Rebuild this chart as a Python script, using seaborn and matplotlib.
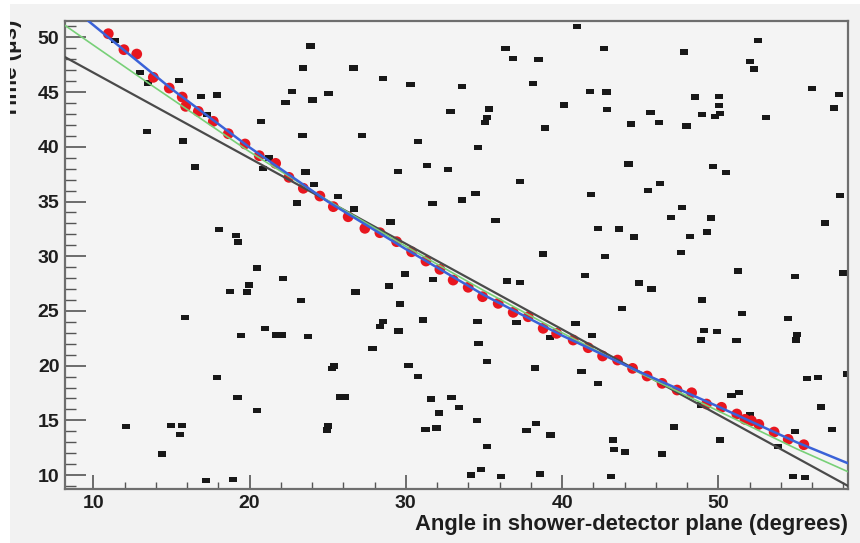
import matplotlib
matplotlib.use("Agg")
import matplotlib.pyplot as plt
from matplotlib.patches import Rectangle
from matplotlib.path import Path
from matplotlib.ticker import MultipleLocator
import seaborn as sns

# background hits (black markers)
noise_x = [11.39, 23.90, 23.41, 26.65, 28.55, 30.30, 12.99, 15.50, 13.52, 16.87,
           17.93, 22.71, 25.05, 22.30, 24.03, 32.86, 20.71, 17.25, 13.46, 15.72,
           23.39, 27.19, 30.79, 16.53, 21.24, 20.88, 23.58, 29.51, 31.37, 32.71,
           24.12, 23.05, 25.67, 31.71, 26.70, 29.02, 18.06, 19.11, 19.28,
           40.94, 36.38, 42.67, 47.79, 52.54, 36.85, 38.49, 52.01, 52.29, 33.57,
           38.11, 41.80, 42.84, 56.02, 57.72, 48.51, 50.05, 40.13, 42.88, 50.05,
           35.31, 35.19, 35.06, 45.66, 48.96, 49.77, 50.13, 57.38, 53.03, 38.92,
           44.40, 46.19, 47.96, 34.63, 44.25, 49.66, 50.47, 37.30, 46.27, 45.51,
           34.46, 33.61, 41.86, 57.81, 47.70, 35.74, 46.98, 49.52, 56.83, 42.31,
           43.65, 44.61, 48.21, 49.28,
           20.47, 22.13, 19.98, 18.74, 19.81, 23.28, 26.78, 28.91, 29.92, 31.75,
           29.64, 15.84, 21.00, 19.47, 21.69, 22.05, 23.73, 28.55, 28.34, 29.53,
           31.09, 27.87, 30.17, 30.77, 25.25, 25.42, 17.89, 19.23, 25.78, 26.10,
           20.47, 31.62, 32.92, 32.11, 12.11, 14.99, 15.65, 15.55, 24.93, 25.03,
           31.26, 31.96, 14.42, 17.21, 18.96,
           38.75, 42.73, 47.62, 51.26, 54.89, 57.98, 41.45, 36.49, 37.28, 44.93,
           45.72, 48.96, 43.84, 51.50, 54.46, 34.59, 37.08, 40.86, 49.11, 49.94,
           55.01, 54.99, 48.90, 51.16, 39.24, 41.90, 34.65, 35.21, 38.24, 41.24,
           42.31, 58.25, 55.65, 56.36, 50.84, 51.30, 33.40, 56.59, 34.55, 38.32,
           37.72, 39.26, 47.17, 54.93, 57.27, 35.21, 43.27, 43.31, 44.03, 46.40,
           50.11, 53.84, 34.80, 34.16, 36.10, 38.60, 43.14, 54.78, 55.57, 48.92,
           52.01]
noise_y = [49.70, 49.21, 47.20, 47.20, 46.25, 45.71, 46.80, 46.07, 45.83, 44.61,
           44.73, 45.04, 44.85, 44.03, 44.27, 43.24, 42.29, 42.93, 41.38, 40.53,
           41.01, 41.01, 40.47, 38.15, 38.97, 38.03, 37.69, 37.75, 38.27, 37.94,
           36.57, 34.86, 35.47, 34.83, 34.31, 33.12, 32.45, 31.90, 31.29,
           50.98, 49.00, 48.97, 48.66, 49.70, 48.05, 47.99, 47.78, 47.11, 45.49,
           45.77, 45.07, 45.01, 45.31, 44.79, 44.55, 44.61, 43.82, 43.39, 43.79,
           43.45, 42.69, 42.23, 43.15, 42.93, 42.78, 43.06, 43.54, 42.69, 41.71,
           42.08, 42.20, 41.90, 39.92, 38.42, 38.18, 37.66, 36.81, 36.66, 35.99,
           35.71, 35.13, 35.62, 35.53, 34.43, 33.24, 33.55, 33.49, 33.03, 32.54,
           32.48, 31.75, 31.81, 32.21,
           28.92, 27.98, 27.37, 26.76, 26.73, 25.97, 26.73, 27.28, 28.38, 27.86,
           25.63, 24.42, 23.41, 22.77, 22.80, 22.80, 22.65, 24.05, 23.56, 23.17,
           24.17, 21.55, 20.03, 19.02, 19.75, 19.97, 18.90, 17.10, 17.13, 17.13,
           15.91, 16.95, 17.07, 15.67, 14.45, 14.51, 14.51, 13.72, 14.12, 14.48,
           14.18, 14.30, 11.92, 9.48, 9.61,
           30.20, 29.96, 30.33, 28.65, 28.13, 28.47, 28.22, 27.74, 27.58, 27.55,
           27.01, 26.00, 25.24, 24.75, 24.29, 24.02, 23.96, 23.84, 23.20, 23.10,
           22.83, 22.34, 22.34, 22.28, 22.59, 22.77, 22.04, 20.39, 19.78, 19.48,
           18.35, 19.24, 18.81, 18.90, 17.29, 17.53, 16.19, 16.22, 14.97, 14.70,
           14.09, 13.66, 14.39, 13.96, 14.18, 12.59, 13.20, 12.32, 12.11, 11.92,
           13.20, 12.59, 10.49, 10.00, 9.85, 10.09, 9.88, 9.88, 9.76, 16.40,
           15.55]

# selected pixels (red)
sel_x = [10.96, 11.96, 12.78, 13.84, 14.86, 15.69, 15.91, 16.72, 17.68, 18.64,
         19.71, 20.62, 21.67, 22.52, 23.44, 24.50, 25.36, 26.31, 27.38, 28.34,
         29.41, 30.37, 31.29, 32.18, 33.03, 33.99, 34.91, 35.91, 36.87, 37.83,
         38.79, 39.65, 40.71, 41.67, 42.59, 43.55, 44.51, 45.44, 46.40, 47.36,
         48.29, 49.24, 50.20, 51.18, 51.70, 52.12, 52.59, 53.57, 54.47, 55.47]
sel_y = [50.34, 48.88, 48.48, 46.35, 45.37, 44.55, 43.70, 43.24, 42.33, 41.20,
         40.26, 39.19, 38.49, 37.21, 36.21, 35.50, 34.53, 33.61, 32.55, 32.15,
         31.33, 30.41, 29.56, 28.80, 27.82, 27.16, 26.30, 25.69, 24.87, 24.47,
         23.41, 22.95, 22.34, 21.64, 20.88, 20.51, 19.75, 19.05, 18.38, 17.77,
         17.52, 16.49, 16.19, 15.58, 15.09, 14.96, 14.63, 13.93, 13.26, 12.77]

# fitted curves
fit_blue_x = [9.66, 12, 15, 20, 25, 30, 35, 40, 45, 50, 55, 58.3]
fit_blue_y = [51.53, 48.8, 45.3, 39.95, 35.0, 30.65, 26.45, 22.75, 19.4, 16.25, 13.0, 11.07]
fit_green_x = [8.19, 10, 13.52, 20, 25, 30, 35, 40, 45, 50, 55, 58.3]
fit_green_y = [51.1, 49.3, 45.83, 39.55, 35.1, 30.9, 26.85, 23.0, 19.3, 15.85, 12.4, 10.3]
fit_line_x = [8.19, 58.3]
fit_line_y = [48.2, 9.0]

sns.set_style("ticks")
plt.rcParams["font.family"] = ["Liberation Sans", "DejaVu Sans"]

bg = "#f2f2f2"
fig = plt.figure(figsize=(8.6, 5.43), dpi=100)
fig.patch.set_facecolor("white")
canvas_bg = Rectangle((10 / 860, 0), 1, 1 - 4 / 543, transform=fig.transFigure,
                      facecolor=bg, edgecolor="none", zorder=-10)
fig.patches.append(canvas_bg)

ax = fig.add_axes([0.0756, 0.0994, 0.9105, 0.8625])
ax.set_facecolor("#f4f4f4")

box = Path([(-1.5, -1), (1.5, -1), (1.5, 1), (-1.5, 1), (-1.5, -1)],
           [Path.MOVETO, Path.LINETO, Path.LINETO, Path.LINETO, Path.CLOSEPOLY])
sns.scatterplot(x=noise_x, y=noise_y, marker=box, s=34, color="#181818",
                edgecolor="none", linewidth=0, ax=ax, zorder=2)
sns.scatterplot(x=sel_x, y=sel_y, s=60, color="#e8161f", edgecolor="none",
                linewidth=0, ax=ax, zorder=3)

sns.lineplot(x=fit_line_x, y=fit_line_y, sort=False, estimator=None,
             color="#4a4a4a", lw=1.6, ax=ax, zorder=4)
sns.lineplot(x=fit_green_x, y=fit_green_y, sort=False, estimator=None,
             color="#78d078", lw=1.2, ax=ax, zorder=5)
sns.lineplot(x=fit_blue_x, y=fit_blue_y, sort=False, estimator=None,
             color="#3a62d8", lw=1.8, ax=ax, zorder=6)

ax.set_xlim(8.19, 58.3)
ax.set_ylim(8.72, 51.53)

ax.xaxis.set_major_locator(MultipleLocator(10))
ax.xaxis.set_minor_locator(MultipleLocator(2))
ax.yaxis.set_major_locator(MultipleLocator(5))
ax.yaxis.set_minor_locator(MultipleLocator(1))

ax.tick_params(axis="x", which="major", direction="in", length=10, width=1.2,
               color="#555555", labelsize=14, pad=4, labelcolor="#1e1e1e")
ax.tick_params(axis="x", which="minor", direction="in", length=5, width=1.0,
               color="#555555")
ax.tick_params(axis="y", which="major", direction="in", length=15, width=1.2,
               color="#555555", labelsize=14, pad=4, labelcolor="#1e1e1e")
ax.tick_params(axis="y", which="minor", direction="in", length=8, width=1.0,
               color="#555555")
for lab in ax.get_xticklabels() + ax.get_yticklabels():
    lab.set_fontweight("bold")

for sp in ax.spines.values():
    sp.set_color("#6e6e6e")
    sp.set_linewidth(1.6)

ax.set_xlabel("Angle in shower-detector plane (degrees)", loc="right",
              fontsize=15.8, fontweight="bold", color="#1e1e1e", labelpad=2)

ylab = fig.text(22 / 860, 1 - 20 / 543, "Time (μs)", rotation=90, ha="right",
                va="top", fontsize=16, fontweight="bold", color="#1e1e1e")
ylab.set_clip_path(canvas_bg)

fig.savefig("out.png", dpi=100, facecolor=fig.get_facecolor())
